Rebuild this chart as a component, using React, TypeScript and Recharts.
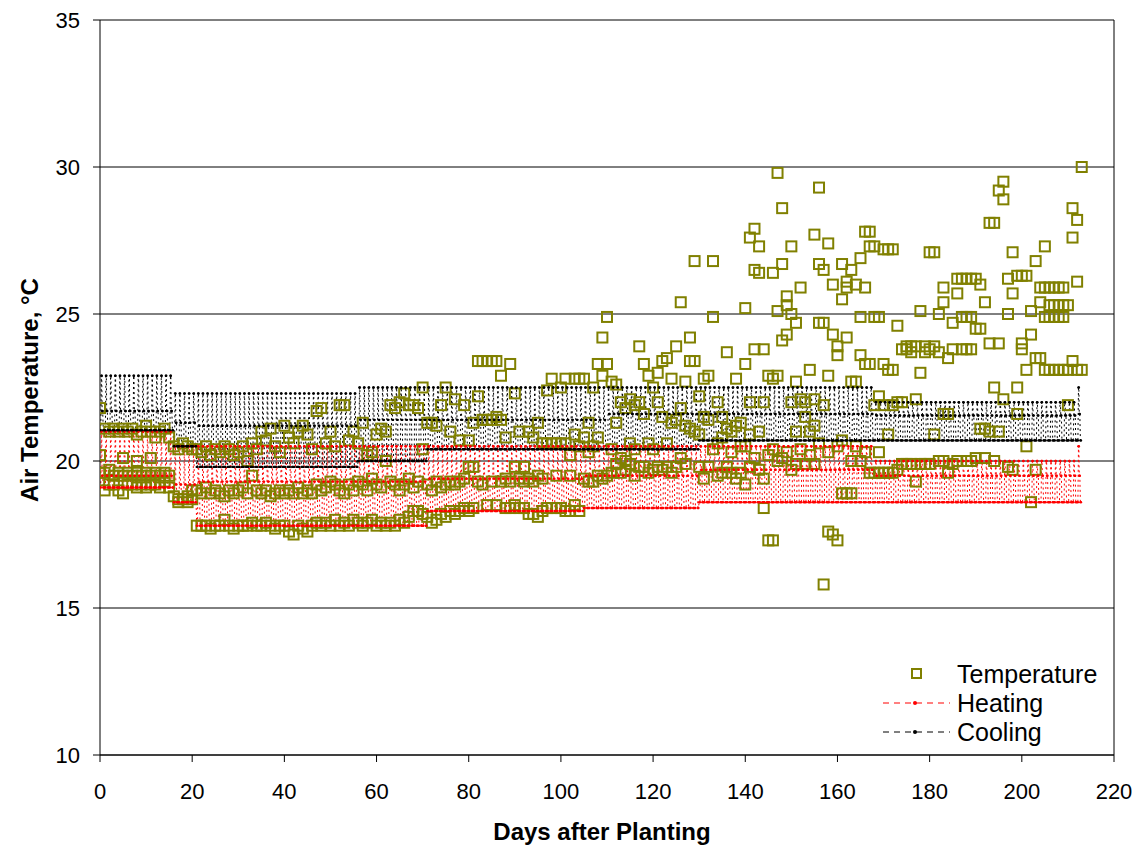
import React from 'react';
import {
  ComposedChart,
  Line,
  Scatter,
  XAxis,
  YAxis,
  CartesianGrid,
  ReferenceLine,
  Legend,
} from 'recharts';

// measured air temperature, one list of readings per day (list index = day offset in block)
const tempDays0to20: number[][] = [
  [21.8, 20.2, 19.6], [21.1, 19.6, 19.0], [21.0, 19.7, 19.2], [21.1, 19.5, 19.2],
  [21.0, 19.6, 19.0], [21.1, 20.1, 19.5, 18.9], [21.0, 19.6, 19.2], [21.1, 19.5, 19.2],
  [20.9, 20.0, 19.6, 19.1], [21.0, 19.5, 19.2], [21.2, 19.6, 19.1], [21.0, 20.1, 19.5, 19.2],
  [20.8, 19.6, 19.2], [21.0, 19.5, 19.1], [21.1, 19.6, 19.3], [20.8, 19.5, 19.1],
  [20.5, 18.8], [20.4, 18.7, 18.6], [20.6, 18.7], [20.5, 18.8, 18.6], [20.4, 19.0, 18.7],
];

const tempDays21to55: number[][] = [
  [20.4, 19.0, 17.8], [20.3, 18.9, 17.8], [20.5, 19.1, 17.8], [20.2, 18.9, 17.7],
  [20.4, 19.0, 17.8], [20.3, 18.9, 17.8], [20.5, 18.8, 18.0], [20.4, 19.0, 17.8],
  [20.2, 18.9, 17.7], [20.3, 19.0, 17.8], [20.5, 19.1, 17.8], [20.0, 18.9, 17.8],
  [20.6, 19.5, 17.9], [20.4, 19.0, 17.8], [21.0, 18.9, 17.8], [20.7, 19.0, 17.9],
  [21.1, 18.8, 17.8], [20.5, 18.9, 17.7], [20.3, 19.0, 17.8], [21.2, 18.9, 17.8],
  [20.8, 19.0, 17.6], [20.6, 18.9, 17.5], [21.0, 19.1, 17.8], [21.2, 18.9, 17.7],
  [20.9, 19.0, 17.6], [20.4, 18.9, 17.8], [21.7, 19.2, 17.9], [21.8, 19.0, 17.8],
  [20.6, 19.1, 17.9], [21.0, 19.3, 17.8], [20.5, 19.2, 18.0], [21.9, 19.0, 17.8],
  [21.9, 18.9, 17.9], [20.7, 19.2, 17.8], [21.0, 19.0, 18.0],
];

const tempDays56to110: number[][] = [
  [20.6, 19.3, 17.9], [21.3, 19.2, 17.8], [20.2, 19.0, 17.9], [20.3, 19.4, 18.0],
  [20.9, 19.2, 17.8], [21.1, 19.1, 17.9], [21.0, 20.0, 17.8], [21.9, 19.3, 17.9],
  [21.8, 19.2, 17.8], [22.0, 19.0, 18.0], [22.3, 19.2, 17.9], [21.9, 19.4, 18.1],
  [21.9, 19.1, 18.3], [21.8, 19.3, 18.3], [22.5, 20.4, 18.2], [21.3, 19.2, 18.1],
  [21.3, 19.0, 17.9], [21.2, 19.3, 18.0], [21.9, 19.1, 18.2], [22.5, 19.2, 18.1],
  [21.0, 19.3, 18.3], [22.1, 19.2, 18.2], [20.7, 19.3, 18.3], [21.9, 19.4, 18.4],
  [20.7, 19.8, 18.3], [21.3, 19.8, 18.4], [23.4, 22.2, 19.3], [23.4, 21.4, 19.2],
  [23.4, 21.4, 18.5], [23.4, 21.4, 19.3], [23.4, 21.5, 18.5], [22.9, 21.4, 19.3],
  [20.8, 19.4, 18.4], [23.3, 19.3, 18.4], [22.3, 19.8, 18.5], [21.0, 19.4, 18.4],
  [19.8, 19.3, 18.4], [21.0, 19.4, 18.2], [20.8, 19.3, 18.2], [21.3, 19.5, 18.1],
  [20.6, 19.4, 18.3], [22.4, 20.6, 18.4], [22.8, 20.6, 18.4], [20.6, 19.5, 18.4],
  [22.5, 20.6, 18.4], [22.8, 20.6, 18.3], [20.2, 19.5, 18.3], [22.8, 20.9, 18.5],
  [22.8, 20.5, 18.3], [22.8, 20.8, 19.4], [21.3, 20.3, 19.3], [22.5, 20.5, 19.3],
  [23.3, 20.8, 19.5], [24.2, 22.9, 19.4], [24.9, 23.3, 19.5],
];

const tempDays111to139: number[][] = [
  [22.7, 20.4, 19.6], [22.6, 21.3, 19.9], [22.0, 20.1, 19.6], [21.8, 20.0, 19.7],
  [22.1, 20.6, 19.9], [21.9, 20.4, 19.5], [23.9, 22.0, 19.8], [23.3, 21.6, 19.8],
  [22.9, 20.6, 19.6], [22.5, 20.4, 19.7], [23.0, 22.0, 19.8], [23.4, 21.5, 19.7],
  [23.5, 20.6, 19.8], [22.8, 21.3, 19.6], [23.9, 21.4, 19.8], [25.4, 21.8, 20.1],
  [22.7, 21.2, 19.9], [24.2, 23.4, 21.1], [26.8, 23.4, 21.0], [22.2, 20.9, 19.8],
  [22.8, 21.5, 19.4], [22.9, 21.4, 19.8], [26.8, 24.9, 20.4], [22.0, 20.6, 19.5],
  [21.5, 20.8, 19.6], [23.7, 21.1, 19.8], [21.0, 20.3, 19.6], [22.8, 21.2, 19.4],
  [21.3, 20.5, 19.6],
];

const tempDays140to167: number[][] = [
  [25.2, 23.3, 20.5, 19.2], [27.6, 22.0, 20.9, 19.8], [27.9, 26.5, 23.8, 20.1],
  [27.3, 26.4, 21.0, 19.7], [23.8, 22.0, 19.4, 18.4], [22.9, 20.2, 17.3],
  [26.4, 22.8, 20.4, 17.3], [29.8, 25.1, 22.9, 20.0], [28.6, 26.7, 24.1, 20.1],
  [25.6, 25.3, 24.3, 20.3], [27.3, 25.0, 22.0, 19.7], [24.7, 22.7, 21.0, 19.9],
  [25.9, 22.1, 20.4], [22.0, 21.5, 19.9], [23.1, 21.0, 20.2],
  [27.7, 22.1, 21.2, 19.9], [29.3, 26.7, 24.7, 20.6], [26.5, 24.7, 21.9, 15.8],
  [27.4, 22.9, 20.3, 17.6], [26.0, 24.3, 17.5], [23.6, 23.9, 20.5, 17.3],
  [26.7, 25.5, 20.7, 18.9], [26.1, 25.9, 24.2, 18.9], [26.5, 22.7, 20.0, 18.9],
  [26.0, 22.7, 20.5], [26.9, 24.9, 23.6, 20.0], [27.8, 25.9, 23.3, 20.3],
  [27.8, 27.3, 23.3, 19.6],
];

const tempDays168to213: number[][] = [
  [27.3, 24.9, 21.9, 19.6], [24.9, 22.2, 20.3, 19.6], [27.2, 23.3, 21.9, 19.6],
  [27.2, 23.1, 20.9, 19.6], [27.2, 23.1, 21.9, 19.6], [24.6, 22.0, 19.7],
  [23.8, 22.0, 19.9], [23.9, 23.8, 19.9], [23.9, 23.7, 19.9], [23.9, 22.1, 19.3],
  [25.1, 23.0, 19.9], [23.9, 23.7, 19.9], [27.1, 23.8, 19.9], [27.1, 23.9, 20.9],
  [25.0, 23.7, 20.0], [25.9, 25.4, 21.6, 20.0], [23.5, 21.6, 19.6], [24.7, 23.8, 19.9],
  [26.2, 25.7, 20.0], [26.2, 24.9, 23.8], [26.2, 24.9, 23.8, 20.0], [26.2, 24.9, 23.8, 20.0],
  [26.2, 24.5, 20.1], [26.0, 24.5, 21.1], [25.4, 21.1, 20.1], [28.1, 24.0, 21.0],
  [28.1, 22.5, 20.0], [29.2, 24.0, 21.0], [29.5, 28.9, 22.1], [26.2, 25.0, 19.8],
  [27.1, 25.7, 19.7], [26.3, 22.5, 21.6], [26.3, 24.0, 23.8], [26.3, 23.1, 20.5],
  [25.1, 24.3, 18.6], [26.8, 23.5, 19.7], [25.9, 25.4, 23.5], [27.3, 25.9, 24.9, 23.1],
  [25.9, 25.3, 24.9, 23.1], [25.9, 25.3, 24.9, 23.1], [25.9, 25.3, 24.9, 23.1],
  [25.9, 25.3, 24.9, 23.1], [25.3, 23.1, 21.9], [28.6, 27.6, 23.4], [28.2, 26.1, 23.1],
  [30.0, 23.1],
];

const tempBlockStart = [0, 21, 56, 111, 140, 168];
const tempBlocks = [
  tempDays0to20, tempDays21to55, tempDays56to110,
  tempDays111to139, tempDays140to167, tempDays168to213,
];

// setpoint periods (first day, last day) and the three levels of the daily schedule
const heatStart = [0, 16, 21, 71, 105, 130, 168, 212];
const heatEnd = [15, 20, 70, 104, 129, 167, 211, 212];
const heatHigh = [21.0, 20.5, 20.5, 20.5, 20.5, 20.5, 20.0, 20.5];
const heatMid = [19.5, 19.2, 19.3, 19.4, 19.5, 19.7, 19.5, 19.5];
const heatLow = [19.1, 18.6, 17.8, 18.3, 18.4, 18.6, 18.6, 18.6];

const coolStart = [0, 16, 21, 56, 71, 110, 130, 168, 212];
const coolEnd = [15, 20, 55, 70, 109, 129, 167, 211, 212];
const coolHigh = [22.9, 22.3, 22.3, 22.5, 22.5, 22.5, 22.5, 22.0, 22.5];
const coolMid = [21.7, 21.3, 21.2, 21.4, 21.4, 21.6, 21.6, 21.55, 21.6];
const coolLow = [21.05, 20.5, 19.8, 20.0, 20.4, 20.4, 20.7, 20.7, 20.7];

// hourly schedule within a day: hour and which level (0 high, 1 mid, 2 low)
const scheduleHour = [0, 4, 7, 9, 11, 14, 17, 20];
const scheduleLevel = [2, 2, 0, 0, 1, 1, 2, 2];

const xTicks = [0, 20, 40, 60, 80, 100, 120, 140, 160, 180, 200, 220];
const yTicks = [10, 15, 20, 25, 30, 35];

const tempData = tempBlocks.flatMap((block, b) =>
  block.flatMap((list, i) => list.map((t) => ({ day: tempBlockStart[b] + i, temp: t })))
);

function buildSetpoints(start: number[], end: number[], high: number[], mid: number[], low: number[]) {
  const rows: { day: number; value: number }[] = [];
  start.forEach((s, k) => {
    const levels = [high[k], mid[k], low[k]];
    for (let d = s; d <= end[k]; d++) {
      scheduleHour.forEach((h, j) => rows.push({ day: d + h / 24, value: levels[scheduleLevel[j]] }));
    }
  });
  return rows;
}

const heatData = buildSetpoints(heatStart, heatEnd, heatHigh, heatMid, heatLow);
const coolData = buildSetpoints(coolStart, coolEnd, coolHigh, coolMid, coolLow);

const FONT = 'Arial, "Liberation Sans", sans-serif';
const OLIVE = '#808000';

const Square = (props: any) => {
  const { cx, cy } = props;
  if (cx == null || cy == null) return null;
  return <rect x={cx - 5} y={cy - 5} width={10} height={10} fill="none" stroke={OLIVE} strokeWidth={2} />;
};

const renderLegend = () => (
  <svg width={260} height={100} style={{ fontFamily: FONT }}>
    <rect x={42} y={14} width={9} height={9} fill="none" stroke={OLIVE} strokeWidth={2} />
    <text x={87} y={19} fontSize={25} dominantBaseline="central" fill="#000">Temperature</text>
    <line x1={13} y1={48} x2={80} y2={48} stroke="#ff0000" strokeDasharray="6 5" />
    <circle cx={45} cy={48} r={2} fill="#ff0000" />
    <text x={87} y={48} fontSize={25} dominantBaseline="central" fill="#000">Heating</text>
    <line x1={13} y1={77} x2={80} y2={77} stroke="#000" strokeDasharray="6 5" />
    <circle cx={45} cy={77} r={2} fill="#000" />
    <text x={87} y={77} fontSize={25} dominantBaseline="central" fill="#000">Cooling</text>
  </svg>
);

export default function App() {
  return (
    <div style={{ position: 'absolute', left: 0, top: 0, width: 1144, height: 850, background: '#fff', fontFamily: FONT }}>
      <ComposedChart width={1144} height={850} margin={{ top: 20, right: 30, bottom: 35, left: 0 }}>
        <CartesianGrid vertical={false} stroke="#000" />
        <XAxis
          dataKey="day"
          type="number"
          domain={[0, 220]}
          ticks={xTicks}
          height={60}
          stroke="#000"
          tickSize={7}
          tickMargin={21}
          tick={{ fill: '#000', fontSize: 22, fontFamily: FONT }}
          allowDataOverflow
        />
        <YAxis
          type="number"
          domain={[10, 35]}
          ticks={yTicks}
          width={100}
          stroke="#000"
          tickSize={7}
          tickMargin={13}
          tick={{ fill: '#000', fontSize: 22, fontFamily: FONT }}
          allowDataOverflow
        />
        <ReferenceLine x={220} stroke="#000" />
        <Scatter
          name="Temperature"
          data={tempData}
          dataKey="temp"
          shape={Square}
          isAnimationActive={false}
        />
        <Line
          name="Heating"
          data={heatData}
          dataKey="value"
          type="linear"
          stroke="#ff0000"
          strokeWidth={1}
          strokeDasharray="2 3"
          dot={{ r: 1.2, fill: '#ff0000', stroke: 'none' }}
          activeDot={false}
          isAnimationActive={false}
        />
        <Line
          name="Cooling"
          data={coolData}
          dataKey="value"
          type="linear"
          stroke="#000"
          strokeWidth={1}
          strokeDasharray="2 3"
          dot={{ r: 1.2, fill: '#000', stroke: 'none' }}
          activeDot={false}
          isAnimationActive={false}
        />
        <Legend
          layout="vertical"
          align="center"
          verticalAlign="middle"
          wrapperStyle={{ left: 870, top: 655, width: 260, height: 100 }}
          content={renderLegend}
        />
      </ComposedChart>
      <div
        style={{
          position: 'absolute', left: 0, top: 818, width: 1144, textAlign: 'center',
          paddingLeft: 60, boxSizing: 'border-box', fontSize: 24, fontWeight: 'bold', color: '#000',
        }}
      >
        Days after Planting
      </div>
      <div
        style={{
          position: 'absolute', left: 30, top: 390, transform: 'translate(-50%, -50%) rotate(-90deg)',
          whiteSpace: 'nowrap', fontSize: 24, fontWeight: 'bold', color: '#000',
        }}
      >
        Air Temperature, °C
      </div>
    </div>
  );
}
